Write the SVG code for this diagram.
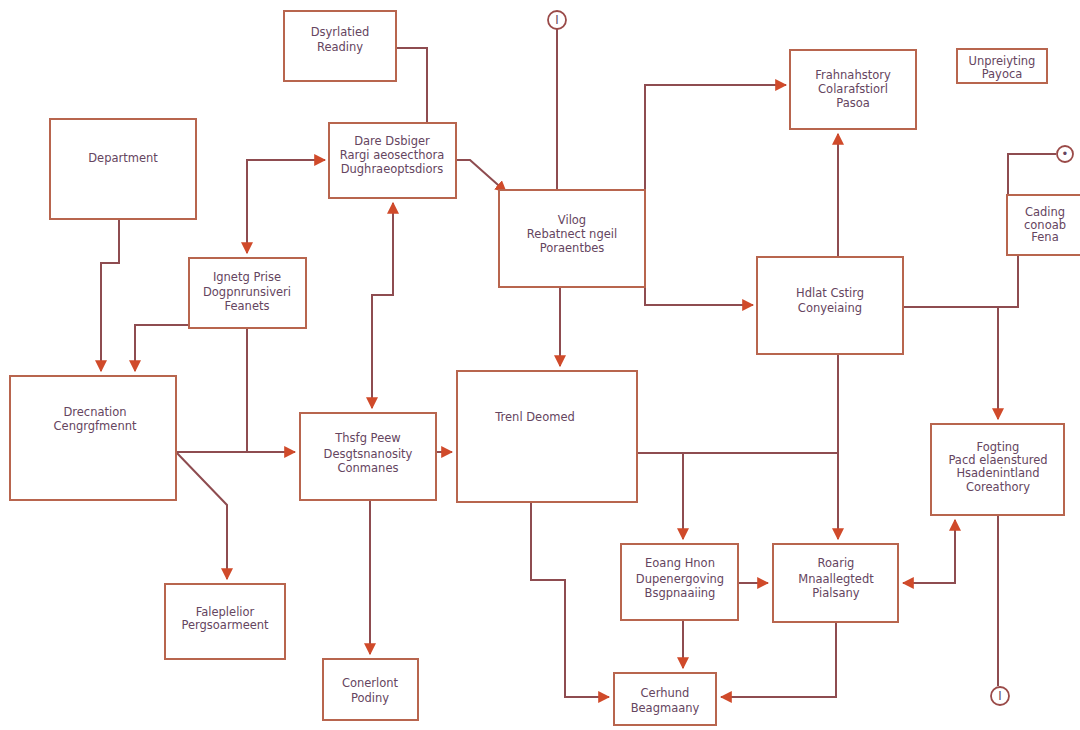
<svg xmlns="http://www.w3.org/2000/svg" width="1080" height="730" viewBox="0 0 1080 730">
<style>
.box{fill:#fff;stroke:#b8654e;stroke-width:2}
.t{font-family:"DejaVu Sans",sans-serif;font-size:11.5px;fill:#654560;text-anchor:middle}
.c{fill:none;stroke:#8e4c50;stroke-width:2}
.circ{fill:#fff;stroke:#9a4a48;stroke-width:1.8}
</style>
<defs>
<marker id="ah" viewBox="0 0 10 10" refX="9" refY="5" markerWidth="12" markerHeight="12" markerUnits="userSpaceOnUse" orient="auto-start-reverse">
<path d="M0,0 L10,5 L0,10 Z" fill="#d04a2a"/>
</marker>
</defs>
<rect width="1080" height="730" fill="#fff"/>
<g id="connectors">
<path class="c" d="M396,48 H427 V122"/>
<path class="c" d="M456,160 H470 L506,192" marker-end="url(#ah)"/>
<path class="c" d="M557,29 V190"/>
<path class="c" d="M645,190 V85 H786" marker-end="url(#ah)"/>
<path class="c" d="M645,287 V305 H753" marker-end="url(#ah)"/>
<path class="c" d="M560,287 V366" marker-end="url(#ah)"/>
<path class="c" d="M838,257 V134" marker-end="url(#ah)"/>
<path class="c" d="M903,307 H1018 V255"/>
<path class="c" d="M1056,154 H1008 V195"/>
<path class="c" d="M998,307 V419" marker-end="url(#ah)"/>
<path class="c" d="M998,515 V686"/>
<path class="c" d="M838,354 V539" marker-end="url(#ah)"/>
<path class="c" d="M637,453 H838"/>
<path class="c" d="M683,453 V539" marker-end="url(#ah)"/>
<path class="c" d="M531,502 V580 H565 V697 H609" marker-end="url(#ah)"/>
<path class="c" d="M738,583 H768" marker-end="url(#ah)"/>
<path class="c" d="M683,620 V668" marker-end="url(#ah)"/>
<path class="c" d="M836,622 V697 H721" marker-end="url(#ah)"/>
<path class="c" d="M903,583 H955 V520" marker-start="url(#ah)" marker-end="url(#ah)"/>
<path class="c" d="M119,219 V263 H101 V371" marker-end="url(#ah)"/>
<path class="c" d="M189,325 H135 V371" marker-end="url(#ah)"/>
<path class="c" d="M247,328 V452"/>
<path class="c" d="M176,452 H295" marker-end="url(#ah)"/>
<path class="c" d="M176,452 L227,505 V579" marker-end="url(#ah)"/>
<path class="c" d="M247,253 V160 H325" marker-start="url(#ah)" marker-end="url(#ah)"/>
<path class="c" d="M393,203 V295 H372 V408" marker-start="url(#ah)" marker-end="url(#ah)"/>
<path class="c" d="M436,452 H452" marker-end="url(#ah)"/>
<path class="c" d="M370,500 V654" marker-end="url(#ah)"/>
</g>
<g id="n-circle-top"><circle class="circ" cx="557" cy="20" r="9"/><text class="t" x="557" y="24" font-size="10">I</text></g>
<g id="n-circle-right"><circle class="circ" cx="1065" cy="154" r="8"/><text class="t" x="1065" y="158" font-size="10">•</text></g>
<g id="n-circle-bottom"><circle class="circ" cx="1000" cy="696" r="9"/><text class="t" x="1000" y="700" font-size="10">I</text></g>
<g id="n1"><rect class="box" x="284" y="11" width="112" height="70"/><text class="t" x="340" y="36">Dsyrlatied</text><text class="t" x="340" y="51">Readiny</text></g>
<g id="n2"><rect class="box" x="329" y="123" width="127" height="75"/><text class="t" x="392" y="145">Dare Dsbiger</text><text class="t" x="392" y="159">Rargi aeosecthora</text><text class="t" x="392" y="173">Dughraeoptsdiors</text></g>
<g id="n3"><rect class="box" x="499" y="190" width="146" height="97"/><text class="t" x="572" y="224">Vilog</text><text class="t" x="572" y="238">Rebatnect ngeil</text><text class="t" x="572" y="252">Poraentbes</text></g>
<g id="n4"><rect class="box" x="790" y="50" width="126" height="79"/><text class="t" x="853" y="79">Frahnahstory</text><text class="t" x="853" y="93">Colarafstiorl</text><text class="t" x="853" y="107">Pasoa</text></g>
<g id="n5"><rect class="box" x="957" y="49" width="90" height="34"/><text class="t" x="1002" y="65">Unpreiyting</text><text class="t" x="1002" y="78">Payoca</text></g>
<g id="n6"><rect class="box" x="50" y="119" width="146" height="100"/><text class="t" x="123" y="162">Department</text></g>
<g id="n7"><rect class="box" x="189" y="258" width="117" height="70"/><text class="t" x="247" y="281">Ignetg Prise</text><text class="t" x="247" y="296">Dogpnrunsiveri</text><text class="t" x="247" y="310">Feanets</text></g>
<g id="n8"><rect class="box" x="10" y="376" width="166" height="124"/><text class="t" x="95" y="416">Drecnation</text><text class="t" x="95" y="430">Cengrgfmennt</text></g>
<g id="n9"><rect class="box" x="300" y="413" width="136" height="87"/><text class="t" x="368" y="442">Thsfg Peew</text><text class="t" x="368" y="458">Desgtsnanosity</text><text class="t" x="368" y="472">Conmanes</text></g>
<g id="n10"><rect class="box" x="457" y="371" width="180" height="131"/><text class="t" x="535" y="421">Trenl Deomed</text></g>
<g id="n11"><rect class="box" x="757" y="257" width="146" height="97"/><text class="t" x="830" y="297">Hdlat Cstirg</text><text class="t" x="830" y="312">Conyeiaing</text></g>
<g id="n12"><rect class="box" x="1007" y="195" width="80" height="60"/><text class="t" x="1045" y="216">Cading</text><text class="t" x="1045" y="229">conoab</text><text class="t" x="1045" y="241">Fena</text></g>
<g id="n13"><rect class="box" x="931" y="424" width="133" height="91"/><text class="t" x="998" y="451">Fogting</text><text class="t" x="998" y="464">Pacd elaenstured</text><text class="t" x="998" y="477">Hsadenintland</text><text class="t" x="998" y="491">Coreathory</text></g>
<g id="n14"><rect class="box" x="621" y="544" width="117" height="76"/><text class="t" x="680" y="567">Eoang Hnon</text><text class="t" x="680" y="583">Dupenergoving</text><text class="t" x="680" y="597">Bsgpnaaiing</text></g>
<g id="n15"><rect class="box" x="773" y="544" width="125" height="78"/><text class="t" x="836" y="567">Roarig</text><text class="t" x="836" y="583">Mnaallegtedt</text><text class="t" x="836" y="597">Pialsany</text></g>
<g id="n16"><rect class="box" x="614" y="673" width="102" height="52"/><text class="t" x="665" y="697">Cerhund</text><text class="t" x="665" y="712">Beagmaany</text></g>
<g id="n17"><rect class="box" x="165" y="584" width="120" height="75"/><text class="t" x="225" y="616">Faleplelior</text><text class="t" x="225" y="629">Pergsoarmeent</text></g>
<g id="n18"><rect class="box" x="323" y="659" width="95" height="61"/><text class="t" x="370" y="687">Conerlont</text><text class="t" x="370" y="702">Podiny</text></g>
</svg>
